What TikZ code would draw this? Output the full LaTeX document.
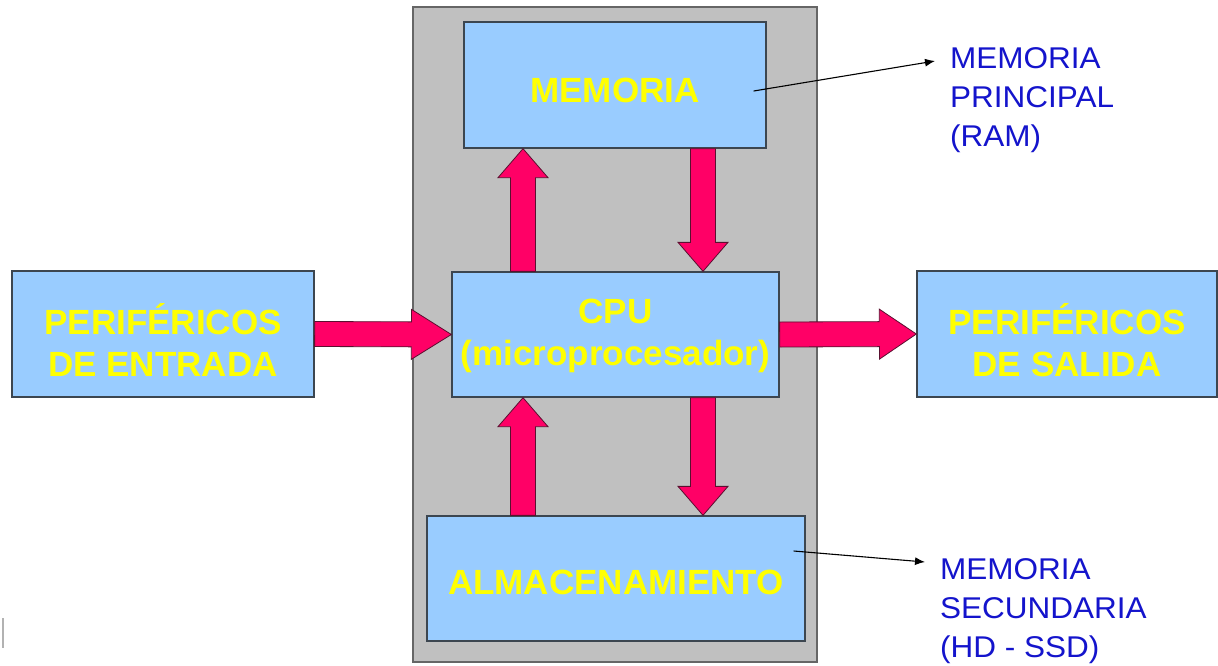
\documentclass[tikz,border=0pt]{standalone}
\usepackage{fontspec}
\setmainfont{Liberation Sans}
\newfontfamily\lblfont[FakeStretch=1.05]{Liberation Sans}
\usetikzlibrary{calc,arrows.meta}
\definecolor{boxblue}{HTML}{99CCFF}
\definecolor{boxline}{HTML}{3C4650}
\definecolor{panelgray}{HTML}{C0C0C0}
\definecolor{panelline}{HTML}{666666}
\definecolor{flowpink}{HTML}{FF0066}
\definecolor{flowline}{HTML}{5A1030}
\definecolor{txtyellow}{HTML}{FFFF00}
\definecolor{lblblue}{HTML}{1414CC}
\newcommand\blockarr[3][29pt]{%
  \path (#2) coordinate (ba) (#3) coordinate (bb);
  \path ($(bb)!#1!(ba)$) coordinate (bh);
  \filldraw[flowbody] ($(ba)!12.5pt!90:(bb)$) -- ($(bh)!12.5pt!90:(bb)$) -- ($(bh)!25pt!90:(bb)$) -- (bb)
    -- ($(bh)!25pt!-90:(bb)$) -- ($(bh)!12.5pt!-90:(bb)$) -- ($(ba)!12.5pt!-90:(bb)$) -- cycle;}
\begin{document}
\begin{tikzpicture}[x=1pt,y=-1pt,
  panel/.style={draw=panelline,line width=1.5pt,fill=panelgray,inner sep=0pt,rectangle},
  box/.style={draw=boxline,line width=1.3pt,fill=boxblue,inner sep=0pt,rectangle},
  boxtext/.style={font=\bfseries\fontsize{35}{42}\selectfont,text=txtyellow,align=center,inner sep=0pt},
  lbl/.style={font=\lblfont\fontsize{30}{39}\selectfont,text=lblblue,align=left,inner sep=0pt},
  flowbody/.style={fill=flowpink,draw=flowline,line width=0.8pt,line join=miter},
  ptr/.style={-{Latex[length=10pt,width=8pt]},line width=1.1pt,black}]
\useasboundingbox (0,0) rectangle (1218,665);
\fill[white] (0,0) rectangle (1218,665);
\node[panel,minimum width=404pt,minimum height=655pt] (panel) at (615,334.5) {};
\node[box,minimum width=302pt,minimum height=126pt] (mem) at (615,85) {};
\node[box,minimum width=327pt,minimum height=125pt] (cpu) at (615.5,334.5) {};
\node[box,minimum width=378pt,minimum height=125pt] (alm) at (616,578.5) {};
\node[box,minimum width=302pt,minimum height=126pt] (in) at (163,334) {};
\node[box,minimum width=300pt,minimum height=126pt] (out) at (1067,334) {};
\node[boxtext] (tmem) at ($(mem.center)+(0,5)$) {MEMORIA};
\node[boxtext] (tcpu) at ($(cpu.center)+(0,1)$) {CPU\\(microprocesador)};
\node[boxtext] (talm) at ($(alm.center)+(0,3.5)$) {ALMACENAMIENTO};
\node[boxtext] (tin) at ($(in.center)+(0,6)$) {PERIFÉRICOS\\DE ENTRADA};
\node[boxtext] (tout) at ($(out.center)+(0,6)$) {PERIFÉRICOS\\DE SALIDA};
\coordinate (c1) at ($(cpu.north)+(-92.5,0)$);
\coordinate (c2) at ($(cpu.north)+(87.5,0)$);
\coordinate (c3) at ($(cpu.south)+(-92.5,0)$);
\coordinate (c4) at ($(cpu.south)+(87.5,0)$);
\blockarr{c1}{c1 |- mem.south}
\blockarr{c2 |- mem.south}{c2}
\blockarr{c3 |- alm.north}{c3}
\blockarr{c4}{c4 |- alm.north}
\blockarr[40pt]{in.east}{cpu.west}
\blockarr[37pt]{cpu.east}{out.west}
\node[lbl,anchor=north west] (ram) at (950,47) {MEMORIA\\PRINCIPAL\\(RAM)};
\node[lbl,anchor=north west] (ssd) at (940,558) {MEMORIA\\SECUNDARIA\\(HD - SSD)};
\draw[ptr] ($(mem.east)+(-13,6)$) -- ($(ram.north west)+(-15,14)$);
\draw[ptr] ($(alm.east)+(-12,-27.5)$) -- ($(ssd.north west)+(-15,4)$);
\draw[gray!60,line width=1.5pt] (3,618) -- (3,648);
\end{tikzpicture}
\end{document}
